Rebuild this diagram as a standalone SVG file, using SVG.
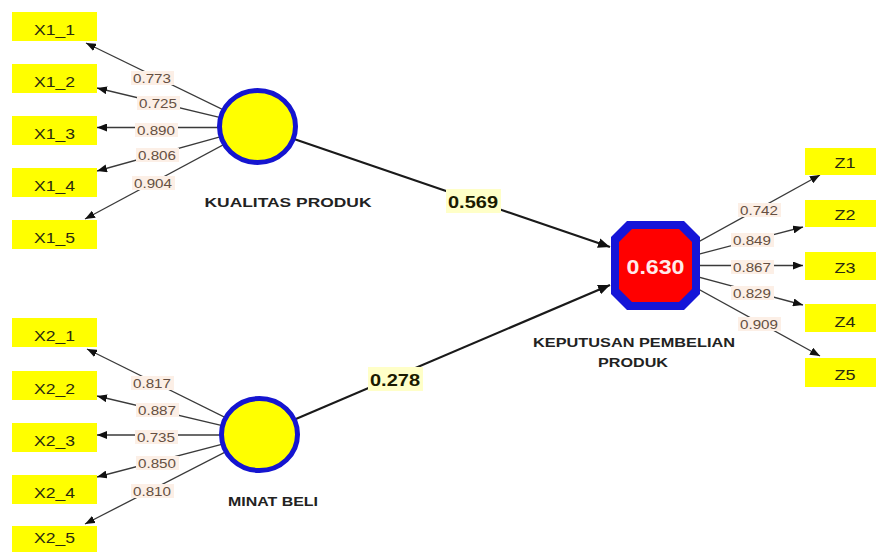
<svg xmlns="http://www.w3.org/2000/svg" width="876" height="552" viewBox="0 0 876 552">
<defs>
<style>
.box{fill:#ffff00}
.btxt{font-family:"Liberation Sans",Arial,sans-serif;font-size:14px;fill:#2a2a10;text-anchor:middle}
.ld{stroke:#3a3a3a;stroke-width:1.3;fill:none;marker-end:url(#ah)}
.st{stroke:#1a1a1a;stroke-width:2.2;fill:none;marker-end:url(#ah2)}
.lbg{fill:#fcefe6}
.ltxt{font-family:"Liberation Sans",Arial,sans-serif;font-size:13px;fill:#654f42;text-anchor:middle}
.sbg{fill:#ffffc8}
.stxt{font-family:"Liberation Sans",Arial,sans-serif;font-size:17px;font-weight:bold;fill:#1a1a00;text-anchor:middle}
.name{font-family:"Liberation Sans",Arial,sans-serif;font-size:13px;font-weight:bold;fill:#222;text-anchor:middle}
.lv{fill:#ffff00;stroke:#1515d0;stroke-width:5}
</style>
<marker id="ah" markerUnits="userSpaceOnUse" markerWidth="11" markerHeight="8" refX="10" refY="4" orient="auto"><path d="M0,0 L10,4 L0,8 z" fill="#111"/></marker>
<marker id="ah2" markerUnits="userSpaceOnUse" markerWidth="13" markerHeight="10" refX="12" refY="5" orient="auto"><path d="M0,0 L12,5 L0,10 z" fill="#111"/></marker>
</defs>
<rect width="876" height="552" fill="#fff"/>
<g id="connectors">
<line class="ld" x1="257.5" y1="126.5" x2="86" y2="43"/>
<line class="ld" x1="257.5" y1="126.5" x2="97" y2="88"/>
<line class="ld" x1="257.5" y1="127.5" x2="97" y2="127.5"/>
<line class="ld" x1="257.5" y1="126.5" x2="97" y2="171"/>
<line class="ld" x1="257.5" y1="126.5" x2="85" y2="219"/>
<line class="ld" x1="259.5" y1="434.5" x2="87" y2="349"/>
<line class="ld" x1="259.5" y1="434.5" x2="97" y2="396"/>
<line class="ld" x1="259.5" y1="435" x2="97" y2="435"/>
<line class="ld" x1="259.5" y1="434.5" x2="97" y2="477"/>
<line class="ld" x1="259.5" y1="434.5" x2="85" y2="524"/>
<line class="ld" x1="655.5" y1="265.5" x2="820" y2="175"/>
<line class="ld" x1="655.5" y1="265.5" x2="803" y2="227"/>
<line class="ld" x1="655.5" y1="265.5" x2="803" y2="265.5"/>
<line class="ld" x1="655.5" y1="265.5" x2="803" y2="305"/>
<line class="ld" x1="655.5" y1="265.5" x2="820" y2="356"/>
<line class="st" x1="257.5" y1="126.5" x2="610" y2="247"/>
<line class="st" x1="259.5" y1="434.5" x2="610" y2="285"/>
<g>
<rect class="lbg" x="131" y="71" width="43" height="14"/><text class="ltxt" x="152" y="83" textLength="38" lengthAdjust="spacingAndGlyphs">0.773</text>
<rect class="lbg" x="137" y="96" width="43" height="14"/><text class="ltxt" x="158" y="108" textLength="38" lengthAdjust="spacingAndGlyphs">0.725</text>
<rect class="lbg" x="135" y="123" width="43" height="14"/><text class="ltxt" x="156" y="135" textLength="38" lengthAdjust="spacingAndGlyphs">0.890</text>
<rect class="lbg" x="136" y="148" width="43" height="14"/><text class="ltxt" x="157" y="160" textLength="38" lengthAdjust="spacingAndGlyphs">0.806</text>
<rect class="lbg" x="132" y="176" width="43" height="14"/><text class="ltxt" x="153" y="188" textLength="38" lengthAdjust="spacingAndGlyphs">0.904</text>
<rect class="lbg" x="131" y="376" width="43" height="14"/><text class="ltxt" x="152" y="388" textLength="38" lengthAdjust="spacingAndGlyphs">0.817</text>
<rect class="lbg" x="136" y="403" width="43" height="14"/><text class="ltxt" x="157" y="415" textLength="38" lengthAdjust="spacingAndGlyphs">0.887</text>
<rect class="lbg" x="135" y="430" width="43" height="14"/><text class="ltxt" x="156" y="442" textLength="38" lengthAdjust="spacingAndGlyphs">0.735</text>
<rect class="lbg" x="136" y="456" width="43" height="14"/><text class="ltxt" x="157" y="468" textLength="38" lengthAdjust="spacingAndGlyphs">0.850</text>
<rect class="lbg" x="131" y="484" width="43" height="14"/><text class="ltxt" x="152" y="496" textLength="38" lengthAdjust="spacingAndGlyphs">0.810</text>
<rect class="lbg" x="738" y="203" width="43" height="14"/><text class="ltxt" x="759" y="215" textLength="38" lengthAdjust="spacingAndGlyphs">0.742</text>
<rect class="lbg" x="731" y="233" width="43" height="14"/><text class="ltxt" x="752" y="245" textLength="38" lengthAdjust="spacingAndGlyphs">0.849</text>
<rect class="lbg" x="731" y="260" width="43" height="14"/><text class="ltxt" x="752" y="272" textLength="38" lengthAdjust="spacingAndGlyphs">0.867</text>
<rect class="lbg" x="731" y="286" width="43" height="14"/><text class="ltxt" x="752" y="298" textLength="38" lengthAdjust="spacingAndGlyphs">0.829</text>
<rect class="lbg" x="738" y="317" width="43" height="14"/><text class="ltxt" x="759" y="329" textLength="38" lengthAdjust="spacingAndGlyphs">0.909</text>
<rect class="sbg" x="446" y="189" width="55" height="24"/><text class="stxt" x="473" y="208" textLength="50" lengthAdjust="spacingAndGlyphs">0.569</text>
<rect class="sbg" x="368" y="367" width="55" height="24"/><text class="stxt" x="395" y="386" textLength="50" lengthAdjust="spacingAndGlyphs">0.278</text>
</g>
</g>
<g id="X1_1"><rect class="box" x="12" y="12" width="85" height="29"/><text class="btxt" x="54.5" y="35" textLength="41" lengthAdjust="spacingAndGlyphs">X1_1</text></g>
<g id="X1_2"><rect class="box" x="12" y="64" width="85" height="29"/><text class="btxt" x="54.5" y="87" textLength="41" lengthAdjust="spacingAndGlyphs">X1_2</text></g>
<g id="X1_3"><rect class="box" x="12" y="116" width="85" height="29"/><text class="btxt" x="54.5" y="139" textLength="41" lengthAdjust="spacingAndGlyphs">X1_3</text></g>
<g id="X1_4"><rect class="box" x="12" y="168" width="85" height="29"/><text class="btxt" x="54.5" y="191" textLength="41" lengthAdjust="spacingAndGlyphs">X1_4</text></g>
<g id="X1_5"><rect class="box" x="12" y="220" width="85" height="29"/><text class="btxt" x="54.5" y="243" textLength="41" lengthAdjust="spacingAndGlyphs">X1_5</text></g>
<g id="X2_1"><rect class="box" x="12" y="318" width="85" height="29"/><text class="btxt" x="54.5" y="341" textLength="41" lengthAdjust="spacingAndGlyphs">X2_1</text></g>
<g id="X2_2"><rect class="box" x="12" y="371" width="85" height="29"/><text class="btxt" x="54.5" y="394" textLength="41" lengthAdjust="spacingAndGlyphs">X2_2</text></g>
<g id="X2_3"><rect class="box" x="12" y="423" width="85" height="29"/><text class="btxt" x="54.5" y="446" textLength="41" lengthAdjust="spacingAndGlyphs">X2_3</text></g>
<g id="X2_4"><rect class="box" x="12" y="475" width="85" height="29"/><text class="btxt" x="54.5" y="498" textLength="41" lengthAdjust="spacingAndGlyphs">X2_4</text></g>
<g id="X2_5"><rect class="box" x="12" y="526" width="85" height="26"/><text class="btxt" x="54.5" y="543" textLength="41" lengthAdjust="spacingAndGlyphs">X2_5</text></g>
<g id="Z1"><rect class="box" x="805" y="148" width="80" height="27"/><text class="btxt" x="845" y="168" textLength="21" lengthAdjust="spacingAndGlyphs">Z1</text></g>
<g id="Z2"><rect class="box" x="805" y="200" width="80" height="27"/><text class="btxt" x="845" y="220" textLength="21" lengthAdjust="spacingAndGlyphs">Z2</text></g>
<g id="Z3"><rect class="box" x="805" y="252" width="80" height="28"/><text class="btxt" x="845" y="273" textLength="21" lengthAdjust="spacingAndGlyphs">Z3</text></g>
<g id="Z4"><rect class="box" x="805" y="304" width="80" height="28"/><text class="btxt" x="845" y="327" textLength="21" lengthAdjust="spacingAndGlyphs">Z4</text></g>
<g id="Z5"><rect class="box" x="805" y="358" width="80" height="29"/><text class="btxt" x="845" y="380" textLength="21" lengthAdjust="spacingAndGlyphs">Z5</text></g>
<g id="kualitas_produk"><ellipse class="lv" cx="257.5" cy="126.5" rx="38" ry="36"/><text class="name" x="288" y="207" textLength="167" lengthAdjust="spacingAndGlyphs">KUALITAS PRODUK</text></g>
<g id="minat_beli"><ellipse class="lv" cx="259.5" cy="434.5" rx="38" ry="36"/><text class="name" x="273" y="506" textLength="90" lengthAdjust="spacingAndGlyphs">MINAT BELI</text></g>
<g id="keputusan_pembelian_produk">
<polygon points="627,221 684,221 700,237 700,294 684,310 627,310 611,294 611,237" fill="#1515d8"/>
<polygon points="632,229 679,229 692,242 692,289 679,302 632,302 619,289 619,242" fill="#ff0000"/>
<text x="655.5" y="274" font-family="'Liberation Sans',Arial,sans-serif" font-size="21" font-weight="bold" fill="#ffeaea" text-anchor="middle" textLength="58" lengthAdjust="spacingAndGlyphs">0.630</text>
<text class="name" x="634" y="347" textLength="202" lengthAdjust="spacingAndGlyphs">KEPUTUSAN PEMBELIAN</text>
<text class="name" x="633" y="367" textLength="70" lengthAdjust="spacingAndGlyphs">PRODUK</text>
</g>
</svg>
